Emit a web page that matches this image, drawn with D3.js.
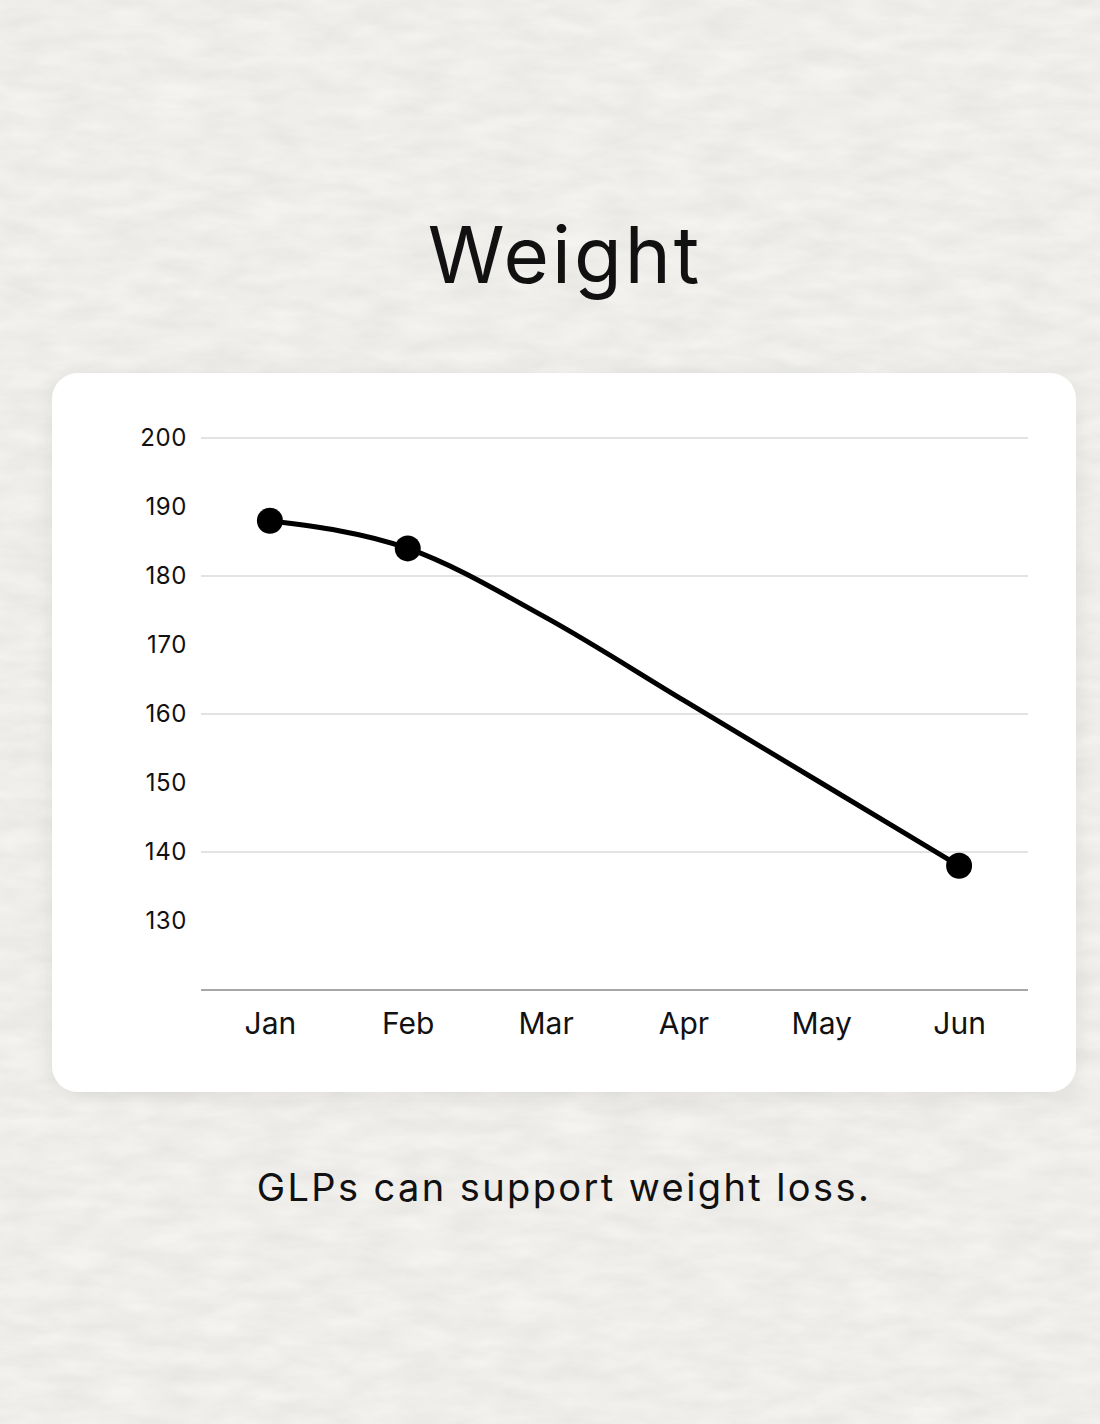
<!DOCTYPE html>
<html>
<head>
<meta charset="utf-8">
<script src="https://cdn.jsdelivr.net/npm/d3@7"></script>
<style>
  html, body { margin: 0; padding: 0; background: #f2f1ed; }
  svg { display: block; font-family: Inter, "Noto Sans", sans-serif; }
</style>
</head>
<body>
<div id="chart"></div>
<script>
const months = ["Jan", "Feb", "Mar", "Apr", "May", "Jun"];
const weights = [188, 184, 174, 162, 150, 138];
const markers = [true, true, false, false, false, true];
const yTicks = [130, 140, 150, 160, 170, 180, 190, 200];
const gridValues = [140, 160, 180, 200];

const width = 1100;
const height = 1424;

const svg = d3.select("#chart")
  .append("svg")
  .attr("width", width)
  .attr("height", height);

// paper texture
const defs = svg.append("defs");
const paper = defs.append("filter").attr("id", "paper")
  .attr("x", 0).attr("y", 0).attr("width", "100%").attr("height", "100%");
paper.append("feTurbulence")
  .attr("type", "fractalNoise")
  .attr("baseFrequency", "0.02 0.06")
  .attr("numOctaves", 5)
  .attr("seed", 3)
  .attr("result", "noise");
paper.append("feColorMatrix")
  .attr("in", "noise")
  .attr("type", "matrix")
  .attr("values", "0 0 0 0 0.5  0 0 0 0 0.5  0 0 0 0 0.48  0 0 0 0.3 -0.05");

const shadow = defs.append("filter").attr("id", "shadow")
  .attr("x", "-10%").attr("y", "-10%").attr("width", "120%").attr("height", "120%");
shadow.append("feDropShadow")
  .attr("dx", 0).attr("dy", 4)
  .attr("stdDeviation", 10)
  .attr("flood-color", "#000")
  .attr("flood-opacity", 0.08);

svg.append("rect")
  .attr("width", width).attr("height", height)
  .attr("fill", "#f4f3ef");
svg.append("rect")
  .attr("width", width).attr("height", height)
  .attr("filter", "url(#paper)");

// title
svg.append("text")
  .attr("x", 565).attr("y", 283)
  .attr("text-anchor", "middle")
  .style("font-size", "78px")
  .style("letter-spacing", "3px")
  .attr("fill", "#111")
  .text("Weight");

// card
svg.append("rect")
  .attr("x", 52).attr("y", 373)
  .attr("width", 1024).attr("height", 719)
  .attr("rx", 26)
  .attr("fill", "#fff")
  .attr("filter", "url(#shadow)");

const x = d3.scalePoint()
  .domain(months)
  .range([201, 1028])
  .padding(0.5);

const y = d3.scaleLinear()
  .domain([120, 200])
  .range([990, 438]);

// gridlines
svg.append("g")
  .selectAll("line")
  .data(gridValues)
  .enter()
  .append("line")
  .attr("x1", 201).attr("x2", 1028)
  .attr("y1", d => y(d)).attr("y2", d => y(d))
  .attr("stroke", "#c8c8c8")
  .attr("stroke-width", 1.2);

// y axis labels
const yAxis = svg.append("g")
  .attr("transform", "translate(187,0)")
  .call(d3.axisLeft(y).tickValues(yTicks).tickSize(0).tickPadding(0));
yAxis.select(".domain").remove();
yAxis.selectAll("text")
  .style("font-family", "Inter, sans-serif")
  .style("font-size", "24px")
  .style("letter-spacing", "0.6px")
  .attr("fill", "#111");

// x axis
const xAxis = svg.append("g")
  .attr("transform", "translate(0,990)")
  .call(d3.axisBottom(x).tickSize(0).tickPadding(23));
xAxis.select(".domain")
  .attr("d", "M201,0H1028")
  .attr("stroke", "#8a8a8a")
  .attr("stroke-width", 1.5);
xAxis.selectAll("text")
  .style("font-family", "Inter, sans-serif")
  .style("font-size", "30px")
  .attr("fill", "#111");

const points = months.map((m, i) => ({ month: m, value: weights[i], marker: markers[i] }));

const line = d3.line()
  .x(d => x(d.month))
  .y(d => y(d.value))
  .curve(d3.curveMonotoneX);

svg.append("path")
  .datum(points)
  .attr("d", line)
  .attr("fill", "none")
  .attr("stroke", "#000")
  .attr("stroke-width", 5);

svg.append("g")
  .selectAll("circle")
  .data(points.filter(d => d.marker))
  .enter()
  .append("circle")
  .attr("cx", d => x(d.month))
  .attr("cy", d => y(d.value))
  .attr("r", 13)
  .attr("fill", "#000");

// caption
svg.append("text")
  .attr("x", 564).attr("y", 1201)
  .attr("text-anchor", "middle")
  .style("font-size", "38px")
  .style("letter-spacing", "2.4px")
  .attr("fill", "#111")
  .text("GLPs can support weight loss.");
</script>
</body>
</html>
